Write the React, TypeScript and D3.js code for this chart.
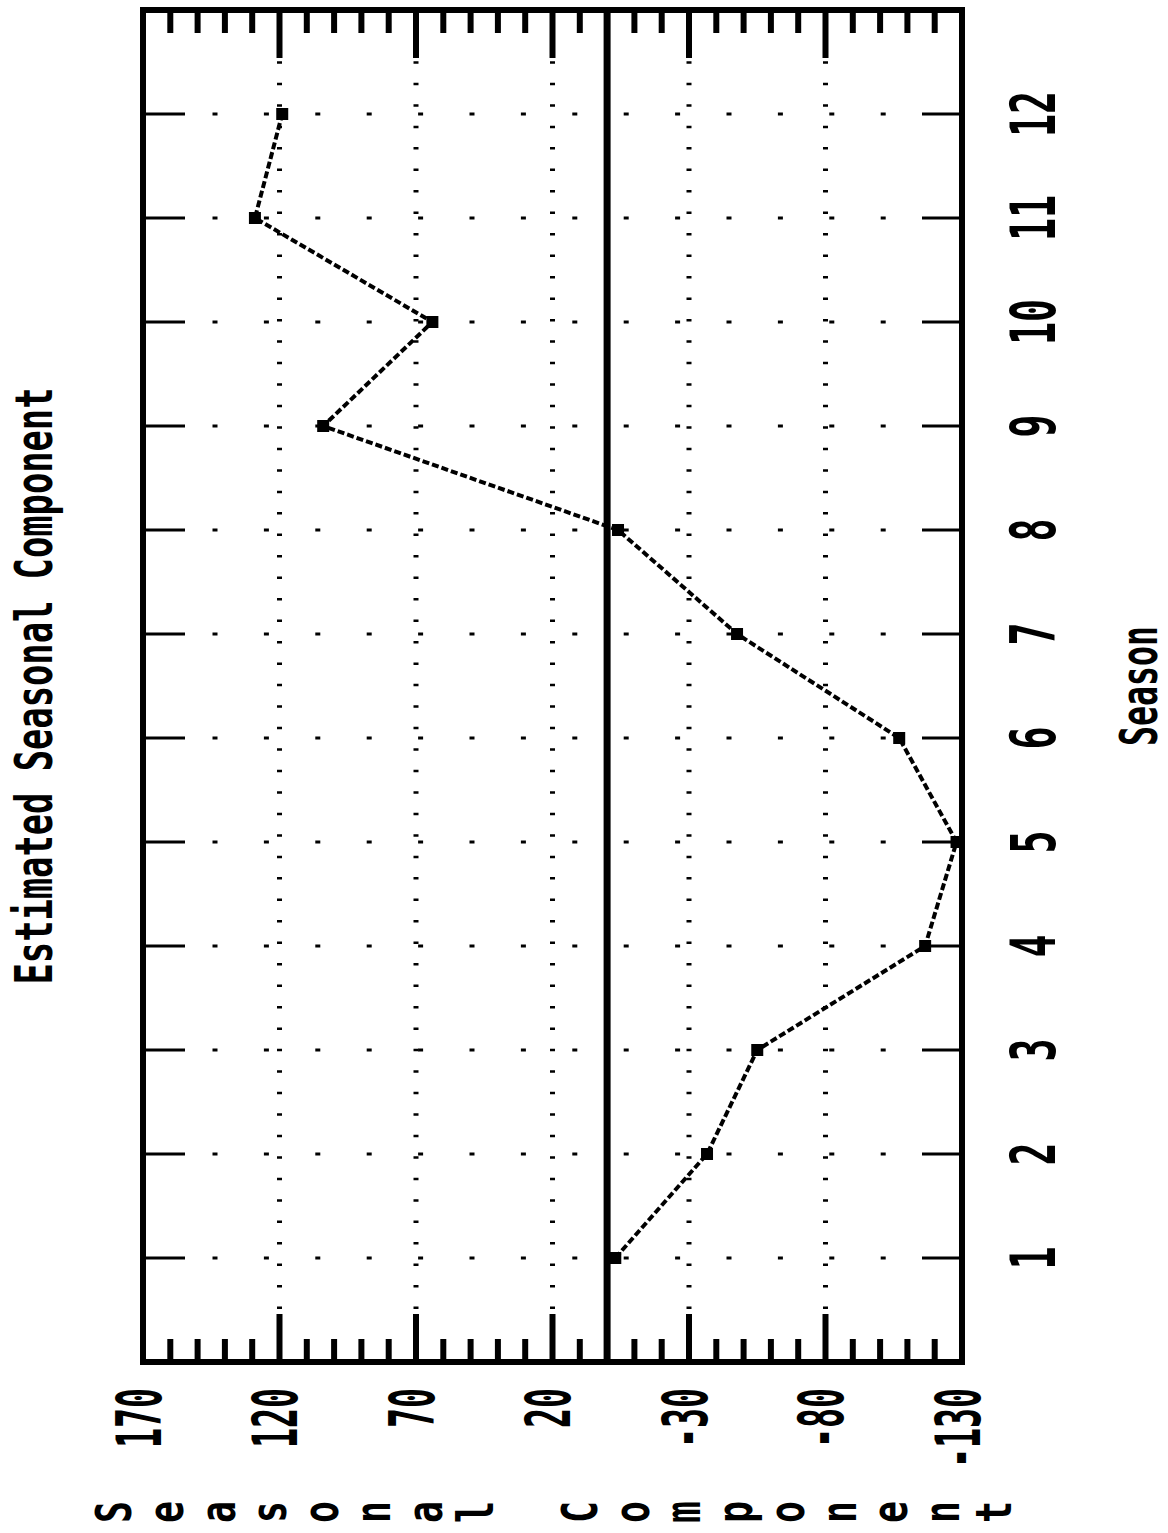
import React from 'react';
import * as d3 from 'd3';

// Seasonal component estimate, one value per season
const seasons = [1, 2, 3, 4, 5, 6, 7, 8, 9, 10, 11, 12];
const seasonalValues = [-3, -36.6, -55, -116.5, -128, -107, -47.6, -4, 104, 64, 129, 119];

// Value axis
const valueTickLabels = [170, 120, 70, 20, -30, -80, -130];
const valueGridValues = [120, 70, 20, -30, -80];
const minorTickValues = d3.range(-130, 171, 10);

const titleText = 'Estimated Seasonal Component';
const xAxisTitle = 'Season';
const yAxisTitle = 'Seasonal Component';

// Page size; the chart is laid out upright in a (PAGE_H x PAGE_W) frame and turned a quarter turn
const PAGE_W = 1168;
const PAGE_H = 1533;

const FONT = "'DejaVu Sans Mono', 'Liberation Mono', monospace";

export default function App() {
  const plotLeft = 171;
  const plotRight = 1523;
  const plotTop = 143;
  const plotBottom = 962;

  const x = d3.scaleLinear().domain([0, 13]).range([plotLeft, plotRight]);
  const y = d3.scaleLinear().domain([-130, 170]).range([plotBottom, plotTop]);

  const linePath = d3
    .line<number>()
    .x((_, i) => x(seasons[i]))
    .y((d) => y(d))(seasonalValues) as string;

  const rowDotStart = y(170) + 69.5;
  const rowDotEnd = y(170) + 745;

  const gridDotStart = x(0) + 53;
  const gridDotEnd = x(13) - 50;

  return (
    <svg
      width={PAGE_W}
      height={PAGE_H}
      style={{ position: 'absolute', left: 0, top: 0, background: '#fff' }}
    >
      <rect x={0} y={0} width={PAGE_W} height={PAGE_H} fill="#fff" />
      <g transform={`translate(0,${PAGE_H}) rotate(-90)`}>
        {/* Title */}
        <text
          x={(plotLeft + plotRight) / 2}
          y={52}
          textAnchor="middle"
          fontFamily={FONT}
          fontWeight="bold"
          fontSize={51}
          textLength={597}
          lengthAdjust="spacingAndGlyphs"
          fill="#000"
        >
          {titleText}
        </text>

        {/* Dotted grid along value ticks */}
        {valueGridValues.map((v) => (
          <line
            key={`vg${v}`}
            x1={gridDotStart}
            x2={gridDotEnd}
            y1={y(v)}
            y2={y(v)}
            stroke="#000"
            strokeWidth={5}
            strokeDasharray="2.5 18.97"
          />
        ))}

        {/* Dotted rows at each season, with short inner ticks at both edges */}
        {seasons.map((s) => (
          <g key={`sr${s}`}>
            <line
              x1={x(s)}
              x2={x(s)}
              y1={rowDotStart}
              y2={rowDotEnd}
              stroke="#000"
              strokeWidth={2.8}
              strokeDasharray="5 46.4"
            />
            <line x1={x(s)} x2={x(s)} y1={plotTop} y2={plotTop + 42} stroke="#000" strokeWidth={3} />
            <line x1={x(s)} x2={x(s)} y1={plotBottom - 40} y2={plotBottom} stroke="#000" strokeWidth={3} />
          </g>
        ))}

        {/* Value axis ticks on both sides */}
        {minorTickValues.map((v) => {
          if (v === 0) return null;
          const major = (170 - v) % 50 === 0;
          const len = major ? 48 : 23;
          return (
            <g key={`mt${v}`}>
              <line x1={plotLeft} x2={plotLeft + len} y1={y(v)} y2={y(v)} stroke="#000" strokeWidth={6} />
              <line x1={plotRight - len} x2={plotRight} y1={y(v)} y2={y(v)} stroke="#000" strokeWidth={6} />
            </g>
          );
        })}

        {/* Zero reference line */}
        <line x1={plotLeft} x2={plotRight} y1={y(0)} y2={y(0)} stroke="#000" strokeWidth={7} />

        {/* Frame */}
        <rect
          x={plotLeft}
          y={plotTop}
          width={plotRight - plotLeft}
          height={plotBottom - plotTop}
          fill="none"
          stroke="#000"
          strokeWidth={6}
        />

        {/* Series */}
        <path
          d={linePath}
          fill="none"
          stroke="#000"
          strokeWidth={4}
          strokeDasharray="7 3"
        />
        {seasonalValues.map((v, i) => (
          <rect
            key={`pt${i}`}
            x={x(seasons[i]) - 6}
            y={y(v) - 6}
            width={12}
            height={12}
            fill="#000"
          />
        ))}

        {/* Value tick labels */}
        {valueTickLabels.map((v) => {
          const label = String(v);
          return (
            <text
              key={`vl${v}`}
              x={145}
              y={y(v) + 17.5}
              textAnchor="end"
              fontFamily={FONT}
              fontWeight="bold"
              fontSize={62}
              textLength={20 * label.length}
              lengthAdjust="spacingAndGlyphs"
              fill="#000"
            >
              {label}
            </text>
          );
        })}

        {/* Season tick labels */}
        {seasons.map((s) => {
          const label = String(s);
          return (
            <text
              key={`sl${s}`}
              x={x(s)}
              y={1055}
              textAnchor="middle"
              fontFamily={FONT}
              fontWeight="bold"
              fontSize={62}
              textLength={23 * label.length}
              lengthAdjust="spacingAndGlyphs"
              fill="#000"
            >
              {label}
            </text>
          );
        })}

        {/* Season axis title */}
        <text
          x={(plotLeft + plotRight) / 2}
          y={1157}
          textAnchor="middle"
          fontFamily={FONT}
          fontWeight="bold"
          fontSize={52}
          textLength={120}
          lengthAdjust="spacingAndGlyphs"
          fill="#000"
        >
          {xAxisTitle}
        </text>

        {/* Value axis title, letters stacked */}
        {yAxisTitle.split('').map((ch, i) =>
          ch === ' ' ? null : (
            <text
              key={`yt${i}`}
              x={21}
              y={131 + i * 51.75}
              textAnchor="middle"
              fontFamily={FONT}
              fontWeight="bold"
              fontSize={50}
              textLength={22}
              lengthAdjust="spacingAndGlyphs"
              fill="#000"
            >
              {ch}
            </text>
          )
        )}
      </g>
    </svg>
  );
}
